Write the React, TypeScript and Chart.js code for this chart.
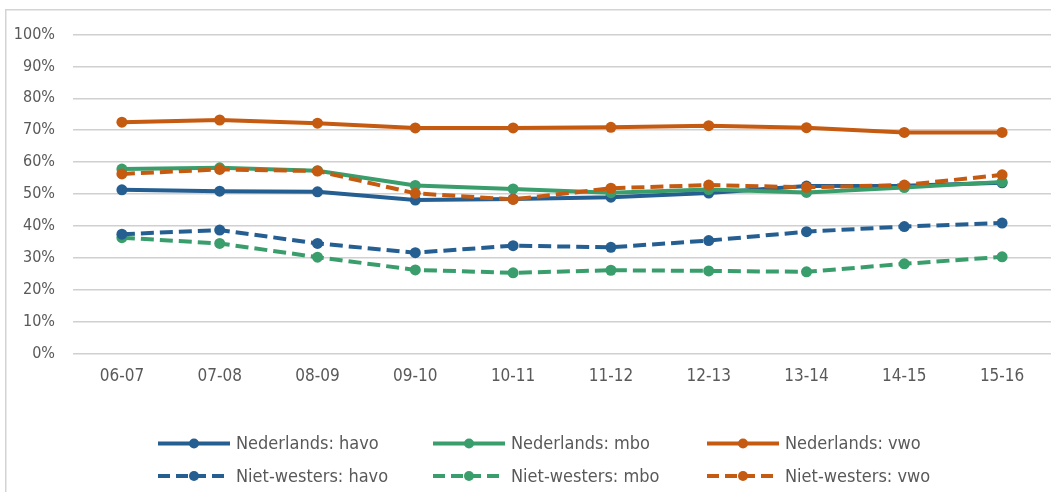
import React, { useEffect, useRef } from "react";
import { Chart, registerables } from "chart.js";

Chart.register(...registerables);

const categories = ["06-07", "07-08", "08-09", "09-10", "10-11", "11-12", "12-13", "13-14", "14-15", "15-16"];
const yTickValues = [0, 10, 20, 30, 40, 50, 60, 70, 80, 90, 100];

const nlHavo = [51.3, 50.9, 50.7, 48.1, 48.4, 49.0, 50.3, 52.5, 52.6, 53.5];
const nlMbo = [57.8, 58.2, 57.3, 52.7, 51.6, 50.4, 51.4, 50.5, 52.0, 53.8];
const nlVwo = [72.5, 73.2, 72.2, 70.7, 70.7, 70.9, 71.4, 70.8, 69.3, 69.3];
const nwHavo = [37.4, 38.7, 34.5, 31.6, 33.8, 33.3, 35.4, 38.2, 39.8, 40.9];
const nwMbo = [36.3, 34.5, 30.2, 26.2, 25.3, 26.1, 25.9, 25.6, 28.1, 30.3];
const nwVwo = [56.3, 57.7, 57.2, 50.2, 48.3, 51.8, 52.8, 52.1, 52.8, 56.0];

const BLUE = "#255E91";
const GREEN = "#3A9E6C";
const ORANGE = "#C55A11";
const TEXT = "#595959";
const FONT = '"DejaVu Sans Condensed", "Liberation Sans", sans-serif';
const DASH = [13, 6];

type Series = { label: string; data: number[]; color: string; dashed: boolean };

const legendRows: Series[][] = [
  [
    { label: "Nederlands: havo", data: nlHavo, color: BLUE, dashed: false },
    { label: "Nederlands: mbo", data: nlMbo, color: GREEN, dashed: false },
    { label: "Nederlands: vwo", data: nlVwo, color: ORANGE, dashed: false },
  ],
  [
    { label: "Niet-westers: havo", data: nwHavo, color: BLUE, dashed: true },
    { label: "Niet-westers: mbo", data: nwMbo, color: GREEN, dashed: true },
    { label: "Niet-westers: vwo", data: nwVwo, color: ORANGE, dashed: true },
  ],
];

// drawing order: first is on top
const drawOrder: Series[] = [
  legendRows[1][2],
  legendRows[0][1],
  legendRows[0][0],
  legendRows[0][2],
  legendRows[1][0],
  legendRows[1][1],
];

const frameAndLegend = {
  id: "frameAndLegend",
  beforeDraw(chart: any) {
    const ctx = chart.ctx;
    ctx.save();
    ctx.fillStyle = "#ffffff";
    ctx.fillRect(0, 0, chart.width, chart.height);
    ctx.strokeStyle = "#D4D4D4";
    ctx.lineWidth = 1.5;
    ctx.beginPath();
    ctx.moveTo(5.75, chart.height + 2);
    ctx.lineTo(5.75, 9.75);
    ctx.lineTo(chart.width + 2, 9.75);
    ctx.stroke();
    ctx.restore();
  },
  afterDraw(chart: any) {
    const ctx = chart.ctx;
    const colX = [158, 433, 707];
    const rowY = [443.5, 476];
    const lineLen = 72;
    ctx.save();
    legendRows.forEach((row, r) => {
      row.forEach((s, c) => {
        const x0 = colX[c];
        const y = rowY[r];
        ctx.strokeStyle = s.color;
        ctx.lineWidth = 4;
        ctx.lineCap = "butt";
        ctx.setLineDash(s.dashed ? [12, 6] : []);
        ctx.beginPath();
        ctx.moveTo(x0, y);
        ctx.lineTo(x0 + lineLen, y);
        ctx.stroke();
        ctx.setLineDash([]);
        ctx.fillStyle = s.color;
        ctx.beginPath();
        ctx.arc(x0 + lineLen / 2, y, 5, 0, Math.PI * 2);
        ctx.fill();
        ctx.fillStyle = TEXT;
        ctx.font = `18px ${FONT}`;
        ctx.textAlign = "left";
        ctx.textBaseline = "middle";
        ctx.fillText(s.label, x0 + lineLen + 6, y + 1);
      });
    });
    ctx.restore();
  },
};

export default function App() {
  const ref = useRef<HTMLCanvasElement | null>(null);

  useEffect(() => {
    document.body.style.margin = "0";
    const canvas = ref.current;
    if (!canvas) return;
    const chart = new Chart(canvas, {
      type: "line",
      data: {
        labels: categories,
        datasets: drawOrder.map((s) => ({
          label: s.label,
          data: s.data,
          borderColor: s.color,
          backgroundColor: s.color,
          borderWidth: 4,
          borderDash: s.dashed ? DASH : [],
          pointRadius: 5.5,
          pointBorderWidth: 0,
          pointBackgroundColor: s.color,
          pointHoverRadius: 5.5,
          tension: 0,
          fill: false,
        })),
      },
      options: {
        responsive: false,
        animation: false,
        events: [],
        layout: { autoPadding: false, padding: { left: 0, right: 0, top: 34.5, bottom: 88.5 } },
        plugins: {
          legend: { display: false },
          tooltip: { enabled: false },
          title: { display: false },
        },
        scales: {
          x: {
            offset: true,
            grid: { display: false, drawTicks: false },
            border: { display: false },
            ticks: {
              color: TEXT,
              font: { family: FONT, size: 17 },
              padding: 13,
              maxRotation: 0,
              autoSkip: false,
            },
            afterFit: (scale: any) => {
              scale.height = 50;
            },
          },
          y: {
            min: 0,
            max: 100,
            afterBuildTicks: (scale: any) => {
              scale.ticks = yTickValues.map((v) => ({ value: v }));
            },
            grid: { color: "#D0D0D0", lineWidth: 1.5, drawTicks: false },
            border: { display: false },
            ticks: {
              color: TEXT,
              font: { family: FONT, size: 16 },
              padding: 18,
              callback: (v: any) => `${v}%`,
            },
            afterFit: (scale: any) => {
              scale.width = 73;
            },
          },
        },
      },
      plugins: [frameAndLegend],
    });
    return () => chart.destroy();
  }, []);

  return (
    <div style={{ position: "absolute", left: 0, top: 0, width: 1051, height: 492 }}>
      <canvas ref={ref} width={1051} height={492} style={{ display: "block" }} />
    </div>
  );
}
